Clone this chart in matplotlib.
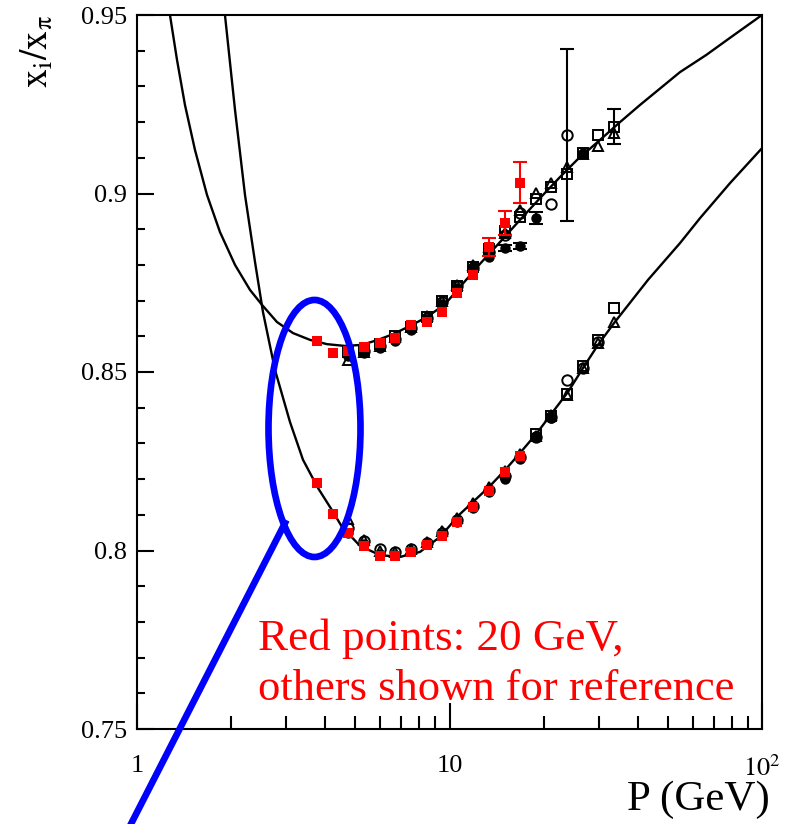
import numpy as np
import matplotlib.pyplot as plt
from matplotlib.patches import Ellipse
from matplotlib.lines import Line2D
from matplotlib.ticker import FixedLocator, FixedFormatter, MultipleLocator, NullFormatter

plt.rcParams['font.family'] = ['Liberation Serif', 'DejaVu Serif']
plt.rcParams['mathtext.fontset'] = 'stix'

# model curves (upper: kaon-like band, lower: proton-like band)
upper_curve_p = [1.275, 1.343, 1.424, 1.533, 1.675, 1.843, 2.059, 2.299, 2.512, 2.805,
                 3.157, 3.578, 4.055, 4.630, 5.248, 5.904, 6.596, 7.474, 8.472, 9.674,
                 10.80, 12.52, 14.51, 16.81, 19.48, 22.57, 25.59, 30.31, 35.13, 40.70,
                 47.17, 54.65, 66.30, 78.99, 100.0]
upper_curve_v = [0.9500, 0.9374, 0.9248, 0.9122, 0.8996, 0.8892, 0.8800, 0.8730, 0.8688, 0.8640,
                 0.8609, 0.8590, 0.8578, 0.8573, 0.8576, 0.8590, 0.8606, 0.8629, 0.8654, 0.8690,
                 0.8738, 0.8803, 0.8864, 0.8926, 0.8987, 0.9046, 0.9094, 0.9150, 0.9200, 0.9248,
                 0.9294, 0.9340, 0.9388, 0.9436, 0.9500]

lower_curve_p = [1.912, 2.059, 2.216, 2.386, 2.530, 2.764, 3.087, 3.398, 3.795, 4.207,
                 4.529, 5.171, 5.992, 6.943, 8.045, 9.324, 10.80, 11.89, 13.38, 15.05,
                 16.81, 19.05, 21.28, 23.94, 26.74, 29.87, 33.61, 43.17, 54.65, 63.34,
                 78.99, 100.0]
lower_curve_v = [0.9500, 0.9234, 0.8996, 0.8808, 0.8668, 0.8506, 0.8360, 0.8254, 0.8175, 0.8113,
                 0.8066, 0.8013, 0.7987, 0.7982, 0.7996, 0.8038, 0.8102, 0.8136, 0.8178, 0.8225,
                 0.8273, 0.8329, 0.8385, 0.8444, 0.8511, 0.8576, 0.8637, 0.8758, 0.8861, 0.8931,
                 0.9029, 0.9127]

# 20 GeV points (red)
red_p = [3.76, 4.24, 4.74, 5.33, 5.99, 6.71, 7.53, 8.45, 9.48, 10.6, 11.9, 13.4, 15.0, 16.8]
red_upper = [0.8588, 0.8552, 0.8560, 0.8569, 0.8580, 0.8596, 0.8632, 0.8640, 0.8669, 0.8722,
             0.8772, 0.8849, 0.8917, 0.9030]
red_upper_err = [0, 0, 0, 0, 0, 0, 0, 0, 0, 0, 0, 0.0025, 0.0033, 0.0058]
red_lower = [0.8190, 0.8102, 0.8050, 0.8013, 0.7985, 0.7985, 0.7996, 0.8015, 0.8041, 0.8081,
             0.8122, 0.8167, 0.8220, 0.8265]

# reference points (black), upper band
tri_up_p = [4.74, 5.33, 5.99, 6.71, 7.53, 8.45, 9.48, 10.6, 11.9, 13.4, 15.0, 16.8, 18.9, 21.2, 23.8, 26.7, 29.9, 33.6]
tri_up_v = [0.8534, 0.8555, 0.8572, 0.8598, 0.8625, 0.8658, 0.8700, 0.8745, 0.8800, 0.8850,
            0.8890, 0.8954, 0.9001, 0.9029, 0.9075, 0.9110, 0.9133, 0.9169]
sq_up_p = [4.74, 5.33, 5.99, 6.71, 7.53, 8.45, 9.48, 10.6, 11.9, 13.4, 15.0, 16.8, 18.9, 21.2, 23.8, 26.7, 29.9, 33.6]
sq_up_v = [0.8555, 0.8562, 0.8578, 0.8600, 0.8625, 0.8655, 0.8698, 0.8742, 0.8795, 0.8845,
           0.8895, 0.8935, 0.8984, 0.9019, 0.9055, 0.9113, 0.9164, 0.9187]
sq_up_err = [0, 0, 0, 0, 0, 0, 0, 0, 0, 0, 0, 0, 0, 0, 0, 0, 0, 0.0049]
circ_up_p = [4.74, 5.33, 5.99, 6.71, 7.53, 8.45, 9.48, 10.6, 11.9, 13.4, 15.0, 16.8, 21.2, 23.8]
circ_up_v = [0.8550, 0.8558, 0.8574, 0.8592, 0.8622, 0.8652, 0.8695, 0.8742, 0.8790, 0.8835,
             0.8884, 0.8944, 0.8970, 0.9164]
circ_up_err = [0, 0, 0, 0, 0, 0, 0, 0, 0, 0, 0, 0, 0, 0.0241]
dot_up_p = [4.74, 5.33, 5.99, 6.71, 7.53, 8.45, 9.48, 10.6, 11.9, 13.4, 15.0, 16.8, 18.9, 26.7]
dot_up_v = [0.8545, 0.8552, 0.8568, 0.8588, 0.8618, 0.8648, 0.8690, 0.8735, 0.8795, 0.8823,
            0.8847, 0.8853, 0.8931, 0.9113]
dot_up_err = [0, 0, 0, 0, 0, 0, 0, 0, 0, 0, 0.0008, 0.0008, 0.0017, 0]

# reference points (black), lower band
tri_lo_p = [4.74, 5.33, 5.99, 6.71, 7.53, 8.45, 9.48, 10.6, 11.9, 13.4, 15.0, 16.8, 18.9, 21.2, 23.8, 26.7, 29.9, 33.6]
tri_lo_v = [0.8087, 0.8030, 0.7998, 0.7995, 0.8003, 0.8025, 0.8055, 0.8090, 0.8132, 0.8178,
            0.8224, 0.8270, 0.8322, 0.8380, 0.8436, 0.8510, 0.8580, 0.8641]
circ_lo_p = [4.74, 5.33, 5.99, 6.71, 7.53, 8.45, 9.48, 10.6, 11.9, 13.4, 15.0, 16.8, 18.9, 21.2, 23.8, 26.7, 29.9]
circ_lo_v = [0.8062, 0.8028, 0.8003, 0.7996, 0.8005, 0.8022, 0.8050, 0.8085, 0.8125, 0.8170,
             0.8210, 0.8262, 0.8318, 0.8375, 0.8478, 0.8512, 0.8585]
sq_lo_p = [18.9, 21.2, 23.8, 26.7, 29.9, 33.6]
sq_lo_v = [0.8326, 0.8377, 0.8438, 0.8517, 0.8590, 0.8678]
dot_lo_p = [4.74, 5.33, 5.99, 6.71, 7.53, 8.45, 9.48, 10.6, 11.9, 13.4, 15.0, 16.8, 18.9, 21.2]
dot_lo_v = [0.8050, 0.8018, 0.7990, 0.7987, 0.7998, 0.8018, 0.8045, 0.8080, 0.8120, 0.8165,
            0.8200, 0.8255, 0.8322, 0.8372]

x_ticks = [1, 10, 100]
x_labels = ['1', '10', '$10^{2}$']
y_ticks = [0.75, 0.8, 0.85, 0.9, 0.95]
y_labels = ['0.75', '0.8', '0.85', '0.9', '0.95']


def err_points(ax, p, v, e, **kw):
    p, v, e = np.asarray(p), np.asarray(v), np.asarray(e)
    m = e > 0
    if m.any():
        ax.errorbar(p[m], v[m], yerr=e[m], fmt='none', **kw)


fig = plt.figure(figsize=(7.85, 8.24), dpi=100)
ax = fig.add_axes([137 / 785, 95 / 824, 625 / 785, 714 / 824])
ax.set_xscale('log')
ax.set_xlim(1, 100)
ax.set_ylim(0.75, 0.95)

ax.plot(upper_curve_p, upper_curve_v, color='black', lw=1.7, zorder=2)
ax.plot(lower_curve_p, lower_curve_v, color='black', lw=1.7, zorder=2)

open_kw = dict(linestyle='none', mfc='none', mec='black', mew=1.4, ms=7.5, zorder=3)
for p, v in [(tri_up_p, tri_up_v), (tri_lo_p, tri_lo_v)]:
    ax.plot(p, v, marker='^', **open_kw)
for p, v in [(sq_up_p, sq_up_v), (sq_lo_p, sq_lo_v)]:
    ax.plot(p, v, marker='s', **open_kw)
for p, v in [(circ_up_p, circ_up_v), (circ_lo_p, circ_lo_v)]:
    ax.plot(p, v, marker='o', **open_kw)
for p, v in [(dot_up_p, dot_up_v), (dot_lo_p, dot_lo_v)]:
    ax.plot(p, v, marker='o', linestyle='none', color='black', ms=6.5, zorder=3)

blk_err = dict(ecolor='black', elinewidth=1.5, capsize=5, capthick=1.5, zorder=3)
err_points(ax, sq_up_p, sq_up_v, sq_up_err, **blk_err)
err_points(ax, circ_up_p, circ_up_v, circ_up_err, **blk_err)
err_points(ax, dot_up_p, dot_up_v, dot_up_err, **blk_err)

err_points(ax, red_p, red_upper, red_upper_err, ecolor='red', elinewidth=1.5,
           capsize=5, capthick=1.5, zorder=4)
ax.plot(red_p, red_upper, 's', color='red', ms=6.5, mew=0, zorder=4)
ax.plot(red_p, red_lower, 's', color='red', ms=6.5, mew=0, zorder=4)

# axes styling
for s in ax.spines.values():
    s.set_linewidth(1.5)
ax.xaxis.set_major_locator(FixedLocator(x_ticks))
ax.xaxis.set_major_formatter(FixedFormatter(x_labels))
ax.xaxis.set_minor_locator(FixedLocator([k * d for d in (1, 10) for k in range(2, 10)]))
ax.xaxis.set_minor_formatter(NullFormatter())
ax.yaxis.set_major_locator(FixedLocator(y_ticks))
ax.yaxis.set_major_formatter(FixedFormatter(y_labels))
ax.yaxis.set_minor_locator(MultipleLocator(0.01))

ax.tick_params(which='both', direction='in', top=False, right=False, width=1.5, labelsize=19)
ax.tick_params(axis='x', which='major', length=19, pad=19)
ax.tick_params(axis='x', which='minor', length=9.5)
ax.tick_params(axis='y', which='major', length=12, pad=7)
ax.tick_params(axis='y', which='minor', length=6)

ax.set_xlabel('P (GeV)', fontsize=31, loc='right')
ax.xaxis.set_label_coords(1.013, -0.072)
ax.set_ylabel(r'$\mathrm{x}_{\mathrm{i}}/\mathrm{x}_{\mathrm{π}}$', fontsize=27, loc='top')
ax.yaxis.set_label_coords(-0.13, 1.0)

ax.text(0.1936, 0.1106, 'Red points: 20 GeV,', color='red', fontsize=32.5,
        transform=ax.transAxes, va='baseline')
ax.text(0.1936, 0.0406, 'others shown for reference', color='red', fontsize=32,
        transform=ax.transAxes, va='baseline')

# highlight around the low-momentum red points
ax.add_patch(Ellipse((0.284, 0.4209), 0.1472, 0.36, transform=ax.transAxes,
                     fill=False, ec='blue', lw=4.8, clip_on=False, zorder=5))
ax.add_line(Line2D([0.2368, -0.0096], [0.2885, -0.133], transform=ax.transAxes,
                   color='blue', lw=4.8, clip_on=False, zorder=5))

fig.savefig('out.png', dpi=100)
